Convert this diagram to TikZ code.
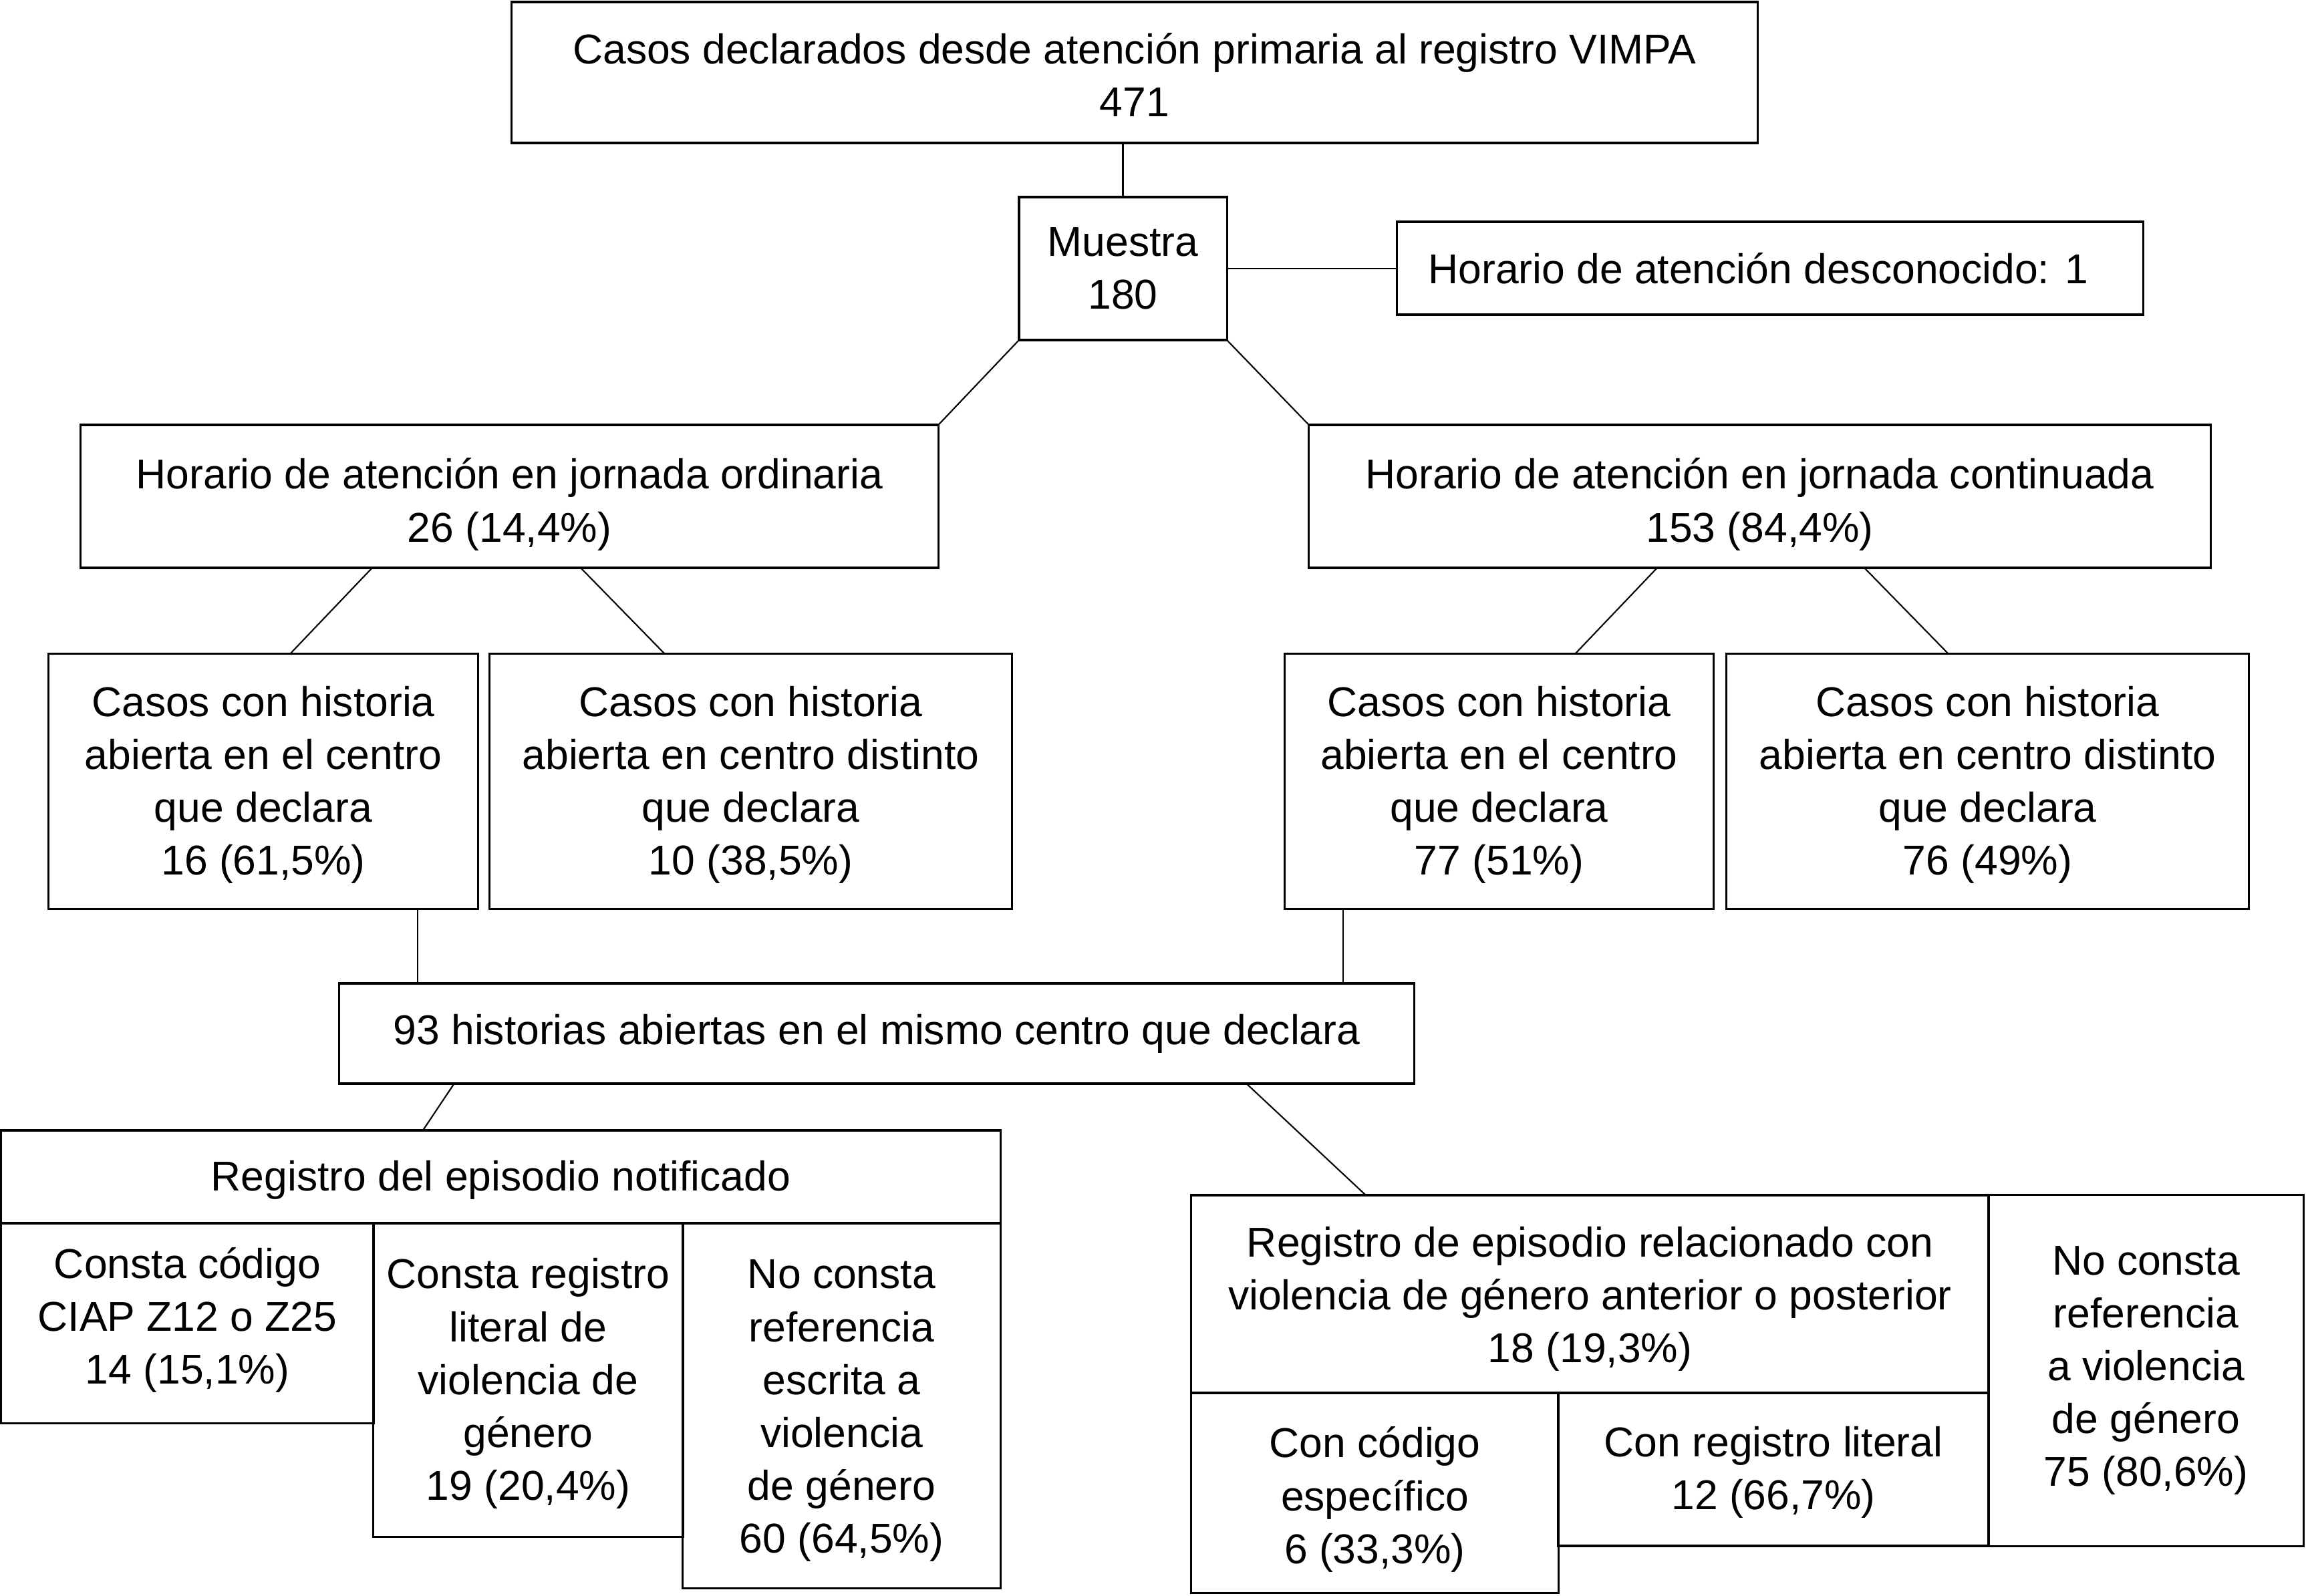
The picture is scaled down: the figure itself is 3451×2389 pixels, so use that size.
\documentclass[tikz,border=0pt]{standalone}
\usepackage{fontspec}
\setmainfont{Liberation Sans}
\usetikzlibrary{calc}
\begin{document}
\begin{tikzpicture}[x=0.01cm,y=-0.01cm,
 box/.style={draw, line width=0.9pt, rectangle, inner sep=0pt, outer sep=0pt},
 lbl/.style={inner sep=0pt, outer sep=0pt, align=center, font=\fontsize{17.75}{22.5}\selectfont},
 conn/.style={line width=0.6pt}]
\useasboundingbox (0,0) rectangle (3451,2389);
% boxes
\node[box, minimum width=18.64cm, minimum height=2.11cm] (top) at (1698,108.5) {};
\node[box, minimum width=3.11cm, minimum height=2.14cm] (mue) at (1680.5,402) {};
\node[box, minimum width=11.16cm, minimum height=1.39cm] (unk) at (2649,401.5) {};
\node[box, minimum width=12.83cm, minimum height=2.14cm] (ord) at (762.5,743) {};
\node[box, minimum width=13.49cm, minimum height=2.14cm] (con) at (2633.5,743) {};
\node[box, minimum width=6.42cm, minimum height=3.81cm] (ca) at (394,1169.5) {};
\node[box, minimum width=7.81cm, minimum height=3.81cm] (cb) at (1123.5,1169.5) {};
\node[box, minimum width=6.41cm, minimum height=3.81cm] (cc) at (2243.5,1169.5) {};
\node[box, minimum width=7.81cm, minimum height=3.81cm] (cd) at (2974.5,1169.5) {};
\node[box, minimum width=16.08cm, minimum height=1.50cm] (h93) at (1312,1547) {};
\node[box, minimum width=14.95cm, minimum height=1.39cm] (regN) at (749.5,1761.5) {};
\node[box, minimum width=5.57cm, minimum height=2.99cm] (n1) at (280.5,1980.5) {};
\node[box, minimum width=4.63cm, minimum height=4.69cm] (n2) at (790.5,2065.5) {};
\node[box, minimum width=4.75cm, minimum height=5.46cm] (n3) at (1259.5,2104) {};
\node[box, minimum width=11.93cm, minimum height=2.96cm] (regR) at (2379.5,1937) {};
\node[box, minimum width=4.71cm, minimum height=5.25cm] (nr) at (3211.5,2051.5) {};
\node[box, minimum width=5.49cm, minimum height=2.99cm] (ce) at (2057.5,2234.5) {};
\node[box, minimum width=6.44cm, minimum height=2.29cm] (cl) at (2654,2199.5) {};
% texts
\node[lbl] (top-t) at ([yshift=-0.033cm]top.center) {Casos declarados desde atención primaria al registro VIMPA\\471};
\node[lbl] (mue-t) at (mue.center) {Muestra\\180};
\node[lbl] (unk-t) at ([xshift=-0.176cm]unk.center) {Horario de atención desconocido: 1};
\node[lbl] (ord-t) at ([yshift=-0.12cm]ord.center) {Horario de atención en jornada ordinaria\\26 (14,4\%)};
\node[lbl] (con-t) at ([yshift=-0.12cm]con.center) {Horario de atención en jornada continuada\\153 (84,4\%)};
\node[lbl] (ca-t) at ([yshift=-0.055cm]ca.center) {Casos con historia\\abierta en el centro\\que declara\\16 (61,5\%)};
\node[lbl] (cb-t) at ([yshift=-0.055cm]cb.center) {Casos con historia\\abierta en centro distinto\\que declara\\10 (38,5\%)};
\node[lbl] (cc-t) at ([yshift=-0.055cm]cc.center) {Casos con historia\\abierta en el centro\\que declara\\77 (51\%)};
\node[lbl] (cd-t) at ([yshift=-0.055cm]cd.center) {Casos con historia\\abierta en centro distinto\\que declara\\76 (49\%)};
\node[lbl] (h93-t) at (h93.center) {93 historias abiertas en el mismo centro que declara};
\node[lbl] (regN-t) at ([yshift=-0.044cm]regN.center) {Registro del episodio notificado};
\node[lbl] (n1-t) at ([yshift=0.044cm]n1.center) {Consta código\\CIAP Z12 o Z25\\14 (15,1\%)};
\node[lbl] (n2-t) at ([yshift=-0.055cm]n2.center) {Consta registro\\literal de\\violencia de\\género\\19 (20,4\%)};
\node[lbl] (n3-t) at ([yshift=-0.077cm]n3.center) {No consta\\referencia\\escrita a\\violencia\\de género\\60 (64,5\%)};
\node[lbl] (regR-t) at ([yshift=-0.077cm]regR.center) {Registro de episodio relacionado con\\violencia de género anterior o posterior\\18 (19,3\%)};
\node[lbl] (nr-t) at (nr.center) {No consta\\referencia\\a violencia\\de género\\75 (80,6\%)};
\node[lbl] (ce-t) at ([yshift=-0.1cm]ce.center) {Con código\\específico\\6 (33,3\%)};
\node[lbl] (cl-t) at ([yshift=-0.044cm]cl.center) {Con registro literal\\12 (66,7\%)};
% connectors
\draw[conn] (mue.north) -- (mue.north |- top.south);
\draw[conn] (mue.east) -- (mue.east -| unk.west);
\draw[conn] (mue.south west) -- (ord.north east);
\draw[conn] (mue.south east) -- (con.north west);
\draw[conn] ([xshift=-2.055cm]ord.south) -- ([xshift=0.4cm]ca.north);
\draw[conn] ([xshift=1.065cm]ord.south) -- ([xshift=-1.285cm]cb.north);
\draw[conn] ([xshift=-1.535cm]con.south) -- ([xshift=1.135cm]cc.north);
\draw[conn] ([xshift=1.565cm]con.south) -- ([xshift=-0.585cm]cd.north);
\draw[conn] ([xshift=2.31cm]ca.south) -- ([xshift=2.31cm]ca.south |- h93.north);
\draw[conn] ([xshift=-2.335cm]cc.south) -- ([xshift=-2.335cm]cc.south |- h93.north);
\draw[conn] ([xshift=-6.32cm]h93.south) -- ([xshift=-1.165cm]regN.north);
\draw[conn] ([xshift=5.53cm]h93.south) -- ([xshift=-3.355cm]regR.north);
\end{tikzpicture}
\end{document}
